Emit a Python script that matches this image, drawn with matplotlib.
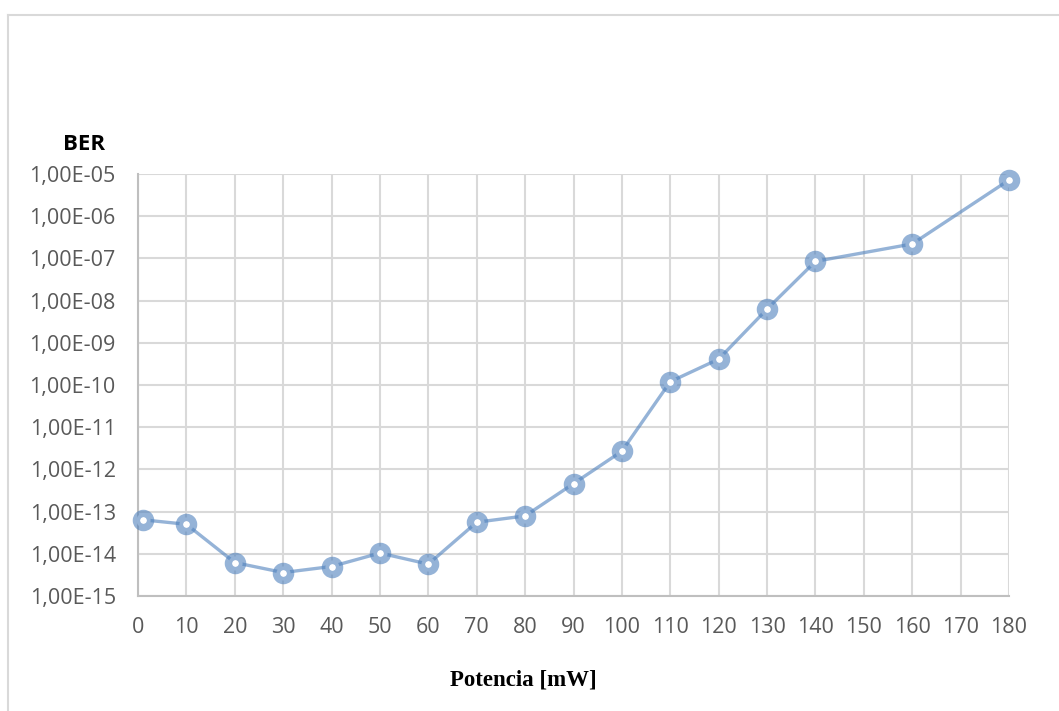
import matplotlib
matplotlib.use("Agg")
import math
import matplotlib.pyplot as plt
from matplotlib.ticker import FixedLocator, FuncFormatter, NullLocator
from matplotlib.lines import Line2D

# Data
potencia = [1, 10, 20, 30, 40, 50, 60, 70, 80, 90, 100, 110, 120, 130, 140, 160, 180]
ber = [6.4e-14, 5.0e-14, 6.2e-15, 3.6e-15, 5.0e-15, 1.04e-14, 5.7e-15, 5.6e-14, 7.9e-14,
       4.6e-13, 2.7e-12, 1.2e-10, 4.1e-10, 6.3e-9, 8.5e-8, 2.2e-7, 7.2e-6]
x_ticks = list(range(0, 190, 10))
y_ticks = [10.0 ** e for e in range(-15, -4)]

W, H = 1059, 711
fig = plt.figure(figsize=(W / 100, H / 100), dpi=100)
ax = fig.add_axes([138 / W, 1 - 596 / H, (1009 - 138) / W, (596 - 174) / H])

line_rgba = (79 / 255, 129 / 255, 189 / 255, 0.6)
ax.plot(potencia, ber, color=line_rgba, lw=2.4, marker='o', ms=10.2,
        mfc='white', mec=line_rgba, mew=5.3, zorder=3, clip_on=False)

ax.set_yscale('log')
ax.set_xlim(0, 180)
ax.set_ylim(1e-15, 1e-5)
ax.xaxis.set_major_locator(FixedLocator(x_ticks))
ax.yaxis.set_major_locator(FixedLocator(y_ticks))
ax.yaxis.set_minor_locator(NullLocator())
ax.xaxis.set_major_formatter(FuncFormatter(lambda v, p: f"{int(round(v))}"))


def fmt(v, p):
    e = int(round(math.log10(v)))
    return f"1,00E-{abs(e):02d}"


ax.yaxis.set_major_formatter(FuncFormatter(fmt))
ax.grid(True, which='major', color='#d9d9d9', lw=1.5)
ax.set_axisbelow(True)
for s in ['top', 'right']:
    ax.spines[s].set_visible(False)
for s in ['left', 'bottom']:
    ax.spines[s].set_color('#bfbfbf')
    ax.spines[s].set_linewidth(1.5)
ax.tick_params(length=0, labelsize=15.5, labelcolor='#595959')
ax.tick_params(axis='y', pad=16)
ax.tick_params(axis='x', pad=15)
for lab in ax.get_xticklabels() + ax.get_yticklabels():
    lab.set_family('Open Sans')

fig.text(84 / W, 1 - 145 / H, "BER", ha='center', va='center', fontsize=16,
         fontweight='bold', family='Open Sans', color='black')
fig.text(523 / W, 1 - 680 / H, "Potencia [mW]", ha='center', va='center', fontsize=16.5,
         fontweight='bold', family='Liberation Serif', color='black')

# chart frame
fig.add_artist(Line2D([8 / W, 1], [1 - 15 / H, 1 - 15 / H], color='#d9d9d9', lw=1.5,
                      transform=fig.transFigure))
fig.add_artist(Line2D([8 / W, 8 / W], [0, 1 - 15 / H], color='#d9d9d9', lw=1.5,
                      transform=fig.transFigure))

fig.savefig("out.png", dpi=100, facecolor='white')
